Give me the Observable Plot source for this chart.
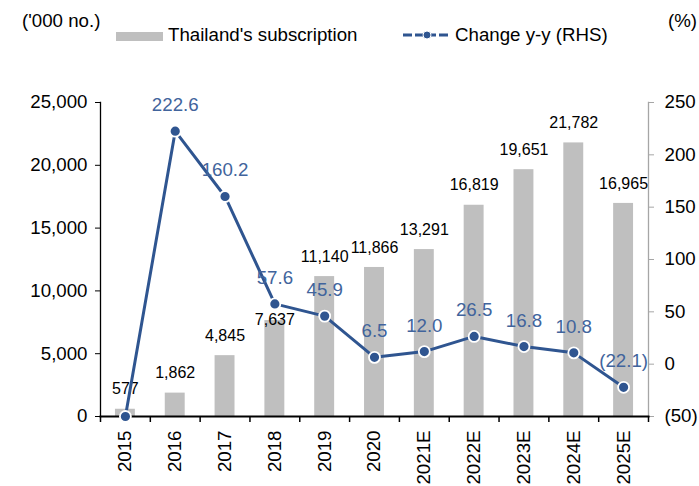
<!DOCTYPE html>
<html>
<head>
<meta charset="utf-8">
<script src="https://cdn.jsdelivr.net/npm/d3@7"></script>
<script src="https://cdn.jsdelivr.net/npm/@observablehq/plot@0.6"></script>
<style>
  html, body { margin: 0; padding: 0; background: #fff; }
  #wrap { position: relative; width: 699px; height: 486px; font-family: "Liberation Sans", Arial, sans-serif; color: #000; }
  #head { position: relative; width: 699px; height: 60px; }
  .t { position: absolute; font-size: 18.7px; line-height: 1; white-space: nowrap; }
  #chart svg { display: block; }
</style>
</head>
<body>
<div id="wrap">
  <div id="head">
    <div class="t" style="left:22px; top:12px;">('000 no.)</div>
    <div style="position:absolute; left:116px; top:32px; width:47px; height:9px; background:#bfbfbf;"></div>
    <div class="t" id="legBar" style="left:168px; top:26px;"></div>
    <svg style="position:absolute; left:402px; top:29px;" width="50" height="12">
      <line x1="1" y1="6" x2="48" y2="6" stroke="#2f5590" stroke-width="3" stroke-dasharray="9,3"/>
      <circle cx="25" cy="6" r="4" fill="#2f5590" stroke="#fff" stroke-width="1"/>
    </svg>
    <div class="t" id="legLine" style="left:455px; top:26px;"></div>
    <div class="t" style="right:2px; top:12px;">(%)</div>
  </div>
  <div id="chart"></div>
</div>
<script>
const categories = ["2015", "2016", "2017", "2018", "2019", "2020", "2021E", "2022E", "2023E", "2024E", "2025E"];
const subscriptions = [577, 1862, 4845, 7637, 11140, 11866, 13291, 16819, 19651, 21782, 16965];
const changeYoY = [-50, 222.6, 160.2, 57.6, 45.9, 6.5, 12.0, 26.5, 16.8, 10.8, -22.1];
const changeLabelShown = [false, true, true, true, true, true, true, true, true, true, true];
const leftTicks = [0, 5000, 10000, 15000, 20000, 25000];
const rightTicks = [-50, 0, 50, 100, 150, 200, 250];
const seriesNames = ["Thailand's subscription", "Change y-y (RHS)"];

document.getElementById("legBar").textContent = seriesNames[0];
document.getElementById("legLine").textContent = seriesNames[1];

const LMAX = 25000, RMIN = -50, RMAX = 250;
const toLeft = v => (v - RMIN) / (RMAX - RMIN) * LMAX;
const fromLeft = v => Math.round(v / LMAX * (RMAX - RMIN) + RMIN);
const fmtPct = v => v < 0 ? "(" + Math.abs(v).toFixed(1) + ")" : v.toFixed(1);
const fmtAxisR = v => v < 0 ? "(" + Math.abs(v) + ")" : String(v);

const rows = categories.map((c, i) => ({
  i, cat: c, subs: subscriptions[i], chg: changeYoY[i], chgL: toLeft(changeYoY[i]), show: changeLabelShown[i]
}));

const blue = "#2f5590";
const labelBlue = "#41649c";
const boundaries = d3.range(categories.length + 1).map(i => i - 0.5);

const plot = Plot.plot({
  width: 699,
  height: 426,
  marginLeft: 100,
  marginRight: 51,
  marginTop: 42,
  marginBottom: 70,
  style: { fontFamily: "'Liberation Sans', Arial, sans-serif", fontSize: "18.7px", color: "#000", background: "#fff", overflow: "visible" },
  x: { type: "linear", domain: [-0.5, categories.length - 0.5] },
  y: { domain: [0, LMAX] },
  marks: [
    Plot.rectY(rows, { x1: d => d.i - 0.2, x2: d => d.i + 0.2, y1: 0, y2: "subs", fill: "#bfbfbf" }),
    Plot.frame({ anchor: "left", stroke: "#000", strokeWidth: 1.3 }),
    Plot.frame({ anchor: "right", stroke: "#a6a6a6", strokeWidth: 1.3 }),
    Plot.axisY(leftTicks, { anchor: "left", tickFormat: d3.format(","), tickSize: 5, tickPadding: 8, label: null, fontSize: 18.7, stroke: "#000" }),
    Plot.axisY(rightTicks.map(toLeft), { anchor: "right", tickFormat: d => fmtAxisR(fromLeft(d)), tickSize: 5, tickPadding: 11, label: null, fontSize: 18.7, stroke: "#a6a6a6", fill: "#000" }),
    Plot.axisX(d3.range(categories.length), { anchor: "bottom", tickFormat: i => categories[i], tickSize: 0, tickPadding: 14, tickRotate: -90, label: null, fontSize: 18.7 }),
    Plot.axisX(boundaries, { anchor: "bottom", tickFormat: () => "", tickSize: 6, label: null, stroke: "#000", strokeWidth: 1.5 }),
    Plot.frame({ anchor: "bottom", stroke: "#000", strokeWidth: 2 }),
    Plot.text(rows.filter(d => d.i !== 3), { x: "i", y: "subs", text: d => d3.format(",")(d.subs), dy: -20, fontSize: 16, fill: "#000" }),
    Plot.text(rows.filter(d => d.i === 3), { x: "i", y: "subs", text: d => d3.format(",")(d.subs), dy: -1, fontSize: 16, fill: "#000" }),
    Plot.line(rows, { x: "i", y: "chgL", stroke: blue, strokeWidth: 3 }),
    Plot.dot(rows, { x: "i", y: "chgL", r: 5.5, fill: blue, stroke: "#fff", strokeWidth: 1.8 }),
    Plot.text(rows.filter(d => d.show), { x: "i", y: "chgL", text: d => fmtPct(d.chg), dy: -26, fontSize: 18.7, fill: labelBlue })
  ]
});
document.getElementById("chart").appendChild(plot);
</script>
</body>
</html>
